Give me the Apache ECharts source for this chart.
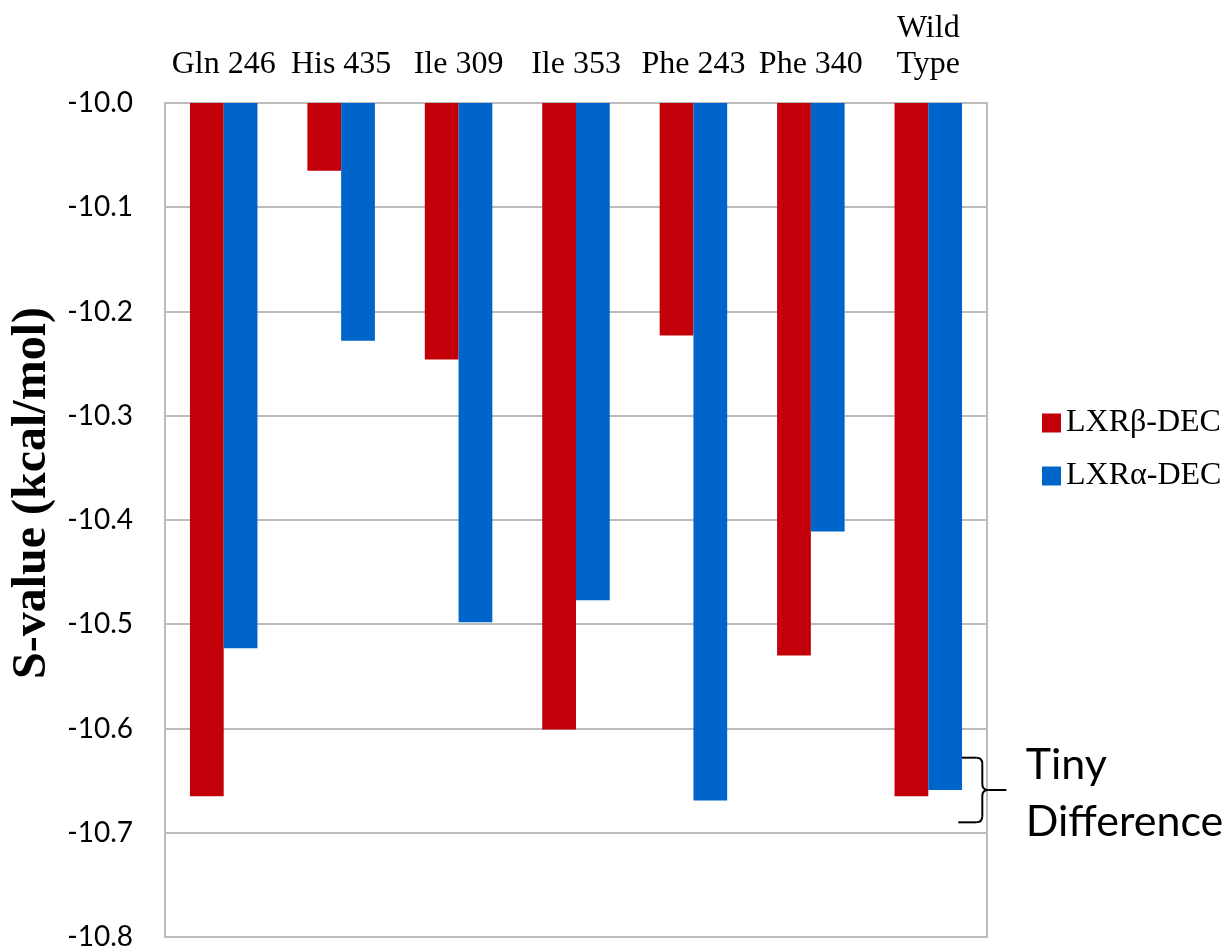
<!DOCTYPE html>
<html>
<head>
<meta charset="utf-8">
<title>S-value of LXR mutants</title>
<script src="https://cdn.jsdelivr.net/npm/echarts@6/dist/echarts.min.js"></script>
<style>
  html, body { margin: 0; padding: 0; background: #fff; }
  #chart { width: 1230px; height: 952px; }
</style>
</head>
<body>
<div id="chart"></div>
<script>
// Residues (mutants) and the wild type
const categories = ['Gln 246', 'His 435', 'Ile 309', 'Ile 353', 'Phe 243', 'Phe 340', 'Wild\nType'];

// S-values in kcal/mol
const lxrBetaDEC = [-10.665, -10.065, -10.246, -10.601, -10.223, -10.530, -10.665];
const lxrAlphaDEC = [-10.523, -10.228, -10.498, -10.477, -10.669, -10.411, -10.659];

const seriesNames = ['LXRβ-DEC', 'LXRα-DEC'];

// Value axis range and step
const yMin = -10.8;
const yMax = -10.0;
const yStep = 0.1;

// Annotation on the wild type pair
const noteCategory = 6;
const noteText = 'Tiny\nDifference';

const RED = '#c3000a';
const BLUE = '#0065cb';
const GRID = '#bcbcbc';

const chart = echarts.init(document.getElementById('chart'), null, { renderer: 'canvas' });

chart.setOption({
  animation: false,
  backgroundColor: '#ffffff',
  grid: {
    left: 165, top: 103, right: 243, bottom: 15,
    show: true, borderColor: GRID, borderWidth: 2, backgroundColor: 'transparent'
  },
  legend: {
    data: seriesNames,
    orient: 'vertical',
    left: 1037,
    top: 401,
    itemWidth: 19,
    itemHeight: 19,
    itemGap: 19,
    icon: 'rect',
    textStyle: {
      fontFamily: 'Liberation Serif',
      fontSize: 32,
      lineHeight: 34,
      color: '#000'
    }
  },
  xAxis: {
    type: 'category',
    position: 'top',
    data: categories,
    axisLine: { show: false },
    axisTick: { show: false },
    splitLine: { show: false },
    axisLabel: {
      interval: 0,
      margin: 20,
      fontFamily: 'Liberation Serif',
      fontSize: 32,
      lineHeight: 36,
      color: '#000'
    }
  },
  yAxis: {
    type: 'value',
    min: yMin,
    max: yMax,
    interval: yStep,
    name: 'S-value (kcal/mol)',
    nameLocation: 'middle',
    nameGap: 106,
    nameTextStyle: {
      fontFamily: 'Liberation Serif',
      fontWeight: 'bold',
      fontSize: 48,
      color: '#000',
      padding: [0, 0, 0, 54]
    },
    axisLine: { show: false },
    axisTick: { show: false },
    splitLine: { show: true, lineStyle: { color: GRID, width: 2 } },
    axisLabel: {
      margin: 32,
      fontFamily: 'Lato',
      fontSize: 28,
      color: '#000',
      formatter: v => v.toFixed(1)
    }
  },
  series: [
    {
      name: seriesNames[0],
      type: 'bar',
      data: lxrBetaDEC,
      clip: true,
      barGap: '0%',
      barCategoryGap: '42.5%',
      itemStyle: { color: RED }
    },
    {
      name: seriesNames[1],
      type: 'bar',
      data: lxrAlphaDEC,
      clip: true,
      barGap: '0%',
      barCategoryGap: '42.5%',
      itemStyle: { color: BLUE }
    },
    {
      // curly brace pointing at the wild type pair, with its note
      name: 'note',
      type: 'custom',
      clip: false,
      silent: true,
      data: [[noteCategory, lxrAlphaDEC[noteCategory]]],
      renderItem: function (params, api) {
        const c = api.coord([api.value(0), api.value(1)]);
        const band = api.size([1, 0])[0];
        const halfSpan = api.size([0, 0.031])[1];
        const xs = c[0] + band * 0.255;   // start of the brace arms
        const xv = c[0] + band * 0.46;    // vertical stroke
        const xt = c[0] + band * 0.665;   // tip end
        const yM = c[1];
        const yT = yM - halfSpan;
        const yB = yM + halfSpan;
        const r = 6;
        const ls = { stroke: '#000', lineWidth: 2, fill: null };
        const seg = (x1, y1, x2, y2) => ({ type: 'line', shape: { x1, y1, x2, y2 }, style: ls });
        const curve = (x1, y1, cx, cy, x2, y2) => ({
          type: 'bezierCurve', shape: { x1, y1, cpx1: cx, cpy1: cy, x2, y2 }, style: ls
        });
        return {
          type: 'group',
          children: [
            seg(xs, yT, xv - r, yT),
            curve(xv - r, yT, xv, yT, xv, yT + r),
            seg(xv, yT + r, xv, yM - r),
            curve(xv, yM - r, xv, yM, xv + r, yM),
            seg(xv + r, yM, xt, yM),
            curve(xv + r, yM, xv, yM, xv, yM + r),
            seg(xv, yM + r, xv, yB - r),
            curve(xv, yB - r, xv, yB, xv - r, yB),
            seg(xv - r, yB, xs, yB),
            {
              type: 'text',
              style: {
                text: noteText,
                x: c[0] + band * 0.83,
                y: yM - 53,
                textAlign: 'left',
                textVerticalAlign: 'top',
                font: '43px Lato',
                lineHeight: 57,
                fill: '#000'
              }
            }
          ]
        };
      }
    }
  ]
});
</script>
</body>
</html>
